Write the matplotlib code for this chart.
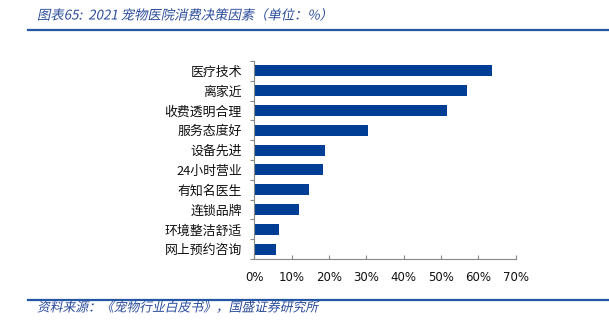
import matplotlib
matplotlib.use("Agg")
import matplotlib.pyplot as plt
from matplotlib import patheffects
from matplotlib.transforms import Affine2D
from matplotlib.lines import Line2D
import numpy as np

plt.rcParams['font.family'] = ['Noto Sans CJK SC', 'DejaVu Sans']

categories = ["医疗技术", "离家近", "收费透明合理", "服务态度好", "设备先进",
              "24小时营业", "有知名医生", "连锁品牌", "环境整洁舒适", "网上预约咨询"]
values = [63.7, 56.9, 51.6, 30.4, 19.0, 18.4, 14.6, 12.0, 6.5, 5.8]
xticks = [0, 10, 20, 30, 40, 50, 60, 70]
xtick_labels = ["0%", "10%", "20%", "30%", "40%", "50%", "60%", "70%"]

title_text = "图表65:  2021 宠物医院消费决策因素（单位：%）"
source_text = "资料来源：《宠物行业白皮书》，国盛证券研究所"

BAR = "#003D95"
BLUE_TEXT = "#2B4C9B"
LINE = "#2456A4"


class Italic(patheffects.AbstractPathEffect):
    def draw_path(self, renderer, gc, tpath, affine, rgbFace=None):
        renderer.draw_path(gc, tpath, Affine2D().skew_deg(12, 0) + affine, rgbFace)


W, H = 609, 323
fig = plt.figure(figsize=(W / 100, H / 100), dpi=100)
ax = fig.add_axes([254.3 / W, 1 - 259 / H, (515.7 - 254.3) / W, (259 - 61) / H])

y = np.arange(len(categories))
ax.barh(y, values, height=0.55, color=BAR)
ax.set_ylim(len(categories) - 0.5, -0.5)
ax.set_xlim(0, 70)

ax.set_yticks(y)
ax.set_yticklabels(categories, fontsize=9.3, color="#111111")
ax.set_yticks(np.arange(-0.5, len(categories), 1), minor=True)
ax.tick_params(axis='y', which='major', length=0, pad=9)
ax.tick_params(axis='y', which='minor', length=3, direction='out', color="#888888", width=0.8)

ax.set_xticks(xticks)
ax.set_xticklabels(xtick_labels, fontsize=8.5, color="#111111", family="DejaVu Sans")
ax.tick_params(axis='x', which='major', length=3, direction='in', pad=8.5, color="#888888", width=0.8)

for s in ['top', 'right']:
    ax.spines[s].set_visible(False)
for s in ['left', 'bottom']:
    ax.spines[s].set_color("#888888")
    ax.spines[s].set_linewidth(0.8)

# title
t = fig.text(37 / W, 1 - 15.5 / H, title_text, fontsize=9.6, color=BLUE_TEXT, va='center', ha='left')
t.set_path_effects([Italic()])
fig.add_artist(Line2D([28 / W, 1], [1 - 30 / H, 1 - 30 / H], transform=fig.transFigure, color=LINE, lw=1.6))

# source
fig.add_artist(Line2D([28 / W, 1], [1 - 299.7 / H, 1 - 299.7 / H], transform=fig.transFigure, color=LINE, lw=1.6))
s = fig.text(37 / W, 1 - 308 / H, source_text, fontsize=9.2, color=BLUE_TEXT, va='center', ha='left')
s.set_path_effects([Italic()])

fig.savefig("out.png", dpi=100)
